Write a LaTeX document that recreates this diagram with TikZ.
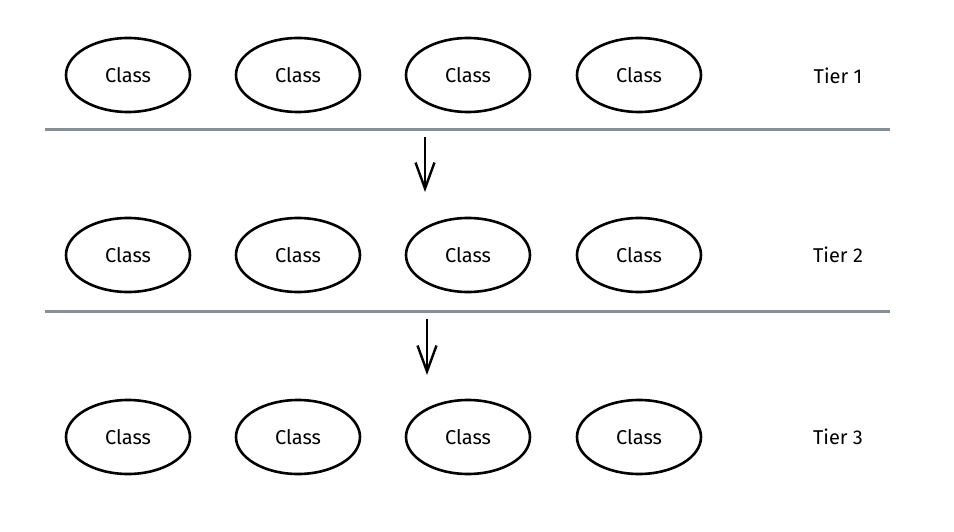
\documentclass[tikz,border=0pt]{standalone}
\usepackage{fontspec}
\setmainfont{Fira Sans}
\usetikzlibrary{shapes.geometric,arrows.meta}
\definecolor{tierline}{HTML}{868E96}
\tikzset{
    cls/.style={ellipse, draw, line width=2.6pt, minimum width=124pt, minimum height=74pt, inner sep=0pt, font=\fontsize{20}{24}\selectfont},
    tier/.style={font=\fontsize{20}{24}\selectfont},
    sep/.style={draw=tierline, line width=3pt},
    down/.style={line width=2.4pt, -{Straight Barb[length=26pt, width=19pt, line width=2.4pt]}}
}
\begin{document}
\begin{tikzpicture}[x=1pt, y=-1pt]
    \useasboundingbox (0,0) rectangle (954,532);
    \node[cls] (a1) at (128,75) {Class};
    \node[cls] (a2) at (298,75) {Class};
    \node[cls] (a3) at (468,75) {Class};
    \node[cls] (a4) at (639,75) {Class};
    \node[tier] (t1) at (838,76) {Tier 1};
    \node[cls] (b1) at (128,255) {Class};
    \node[cls] (b2) at (298,255) {Class};
    \node[cls] (b3) at (468,255) {Class};
    \node[cls] (b4) at (639,255) {Class};
    \node[tier] (t2) at (838,255) {Tier 2};
    \node[cls] (c1) at (128,437) {Class};
    \node[cls] (c2) at (298,437) {Class};
    \node[cls] (c3) at (468,437) {Class};
    \node[cls] (c4) at (639,437) {Class};
    \node[tier] (t3) at (838,437) {Tier 3};
    \coordinate (l1a) at (45,130);
    \coordinate (l1b) at (890,130);
    \coordinate (l2a) at (45,311);
    \coordinate (l2b) at (890,311);
    \coordinate (d1a) at (425,137);
    \coordinate (d1b) at (425,192);
    \coordinate (d2a) at (427,319);
    \coordinate (d2b) at (427,375);
    \draw[sep] (l1a) -- (l1b);
    \draw[sep] (l2a) -- (l2b);
    \draw[down] (d1a) -- (d1b);
    \draw[down] (d2a) -- (d2b);
\end{tikzpicture}
\end{document}
